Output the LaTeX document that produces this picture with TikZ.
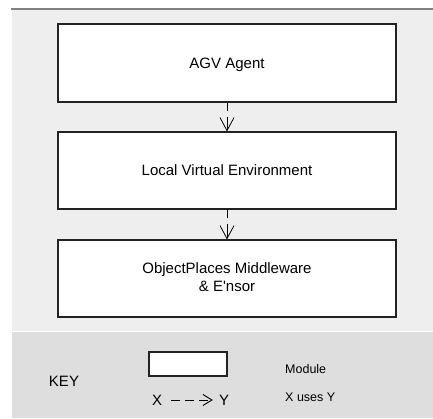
\documentclass[tikz,border=0pt]{standalone}
\usepackage{fontspec}
\setmainfont{Liberation Sans}[Ligatures=TeXOff]
\usetikzlibrary{arrows.meta}
\definecolor{panel}{HTML}{EEEEEE}
\definecolor{keypanel}{HTML}{DEDEDE}
\definecolor{rule}{HTML}{808080}
\definecolor{edge}{HTML}{222222}
\begin{document}
\begin{tikzpicture}[x=1pt,y=-1pt,
  module/.style={draw=edge, line width=1.1pt, fill=white, inner sep=0pt,
    minimum width=338pt, minimum height=77pt, align=center,
    font=\fontsize{15}{19}\selectfont},
  uses/.style={draw=black, line width=0.8pt,
    dash pattern=on 8pt off 6pt on 40pt,
    -{Straight Barb[length=13pt,width=14pt,line width=0.8pt]}},
  keytext/.style={inner sep=0pt, font=\fontsize{12.5}{15}\selectfont},
  bigtext/.style={inner sep=0pt, font=\fontsize{15}{17}\selectfont}]
  \useasboundingbox (0,0) rectangle (433,419);
  % background panels
  \fill[panel] (12,9) rectangle (433,331);
  \fill[white] (12,331) rectangle (433,332);
  \fill[keypanel] (12,332) rectangle (433,418);
  \draw[rule, line width=1.6pt] (11,8.8) -- (433,8.8);

  % modules
  \node[module, minimum height=78pt, text depth=0pt] (agent) at (227,63) {AGV Agent};
  \node[module, text depth=0pt] (lve) at (227,170.5) {Local Virtual Environment};
  \node[module] (mw) at (227,278.5)
    {\raisebox{3.5pt}{\begin{tabular}{@{}c@{}}ObjectPlaces Middleware\\[-1pt] \& E'nsor\end{tabular}}};

  % uses relations
  \draw[uses] (agent.south) -- (lve.north);
  \draw[uses] (lve.south) -- (mw.north);

  % key
  \node[bigtext] (keylabel) at (64,381) {KEY};
  \node[draw=edge, line width=1.1pt, fill=white, minimum width=78pt,
    minimum height=24pt, inner sep=0pt] (keybox) at (188,364) {};
  \node[keytext, anchor=west] (modtext) at (285,369) {Module};
  \node[bigtext] (kx) at (157,400) {X};
  \node[bigtext] (ky) at (224,400) {Y};
  \draw[line width=0.9pt, dash pattern=on 9pt off 5pt, shorten <=9pt, shorten >=6pt,
    -{Straight Barb[length=9pt,width=11pt,line width=0.9pt]}] (kx.east) -- (ky.west);
  \node[keytext, anchor=west] (usestext) at (285,397) {X uses Y};
\end{tikzpicture}
\end{document}
